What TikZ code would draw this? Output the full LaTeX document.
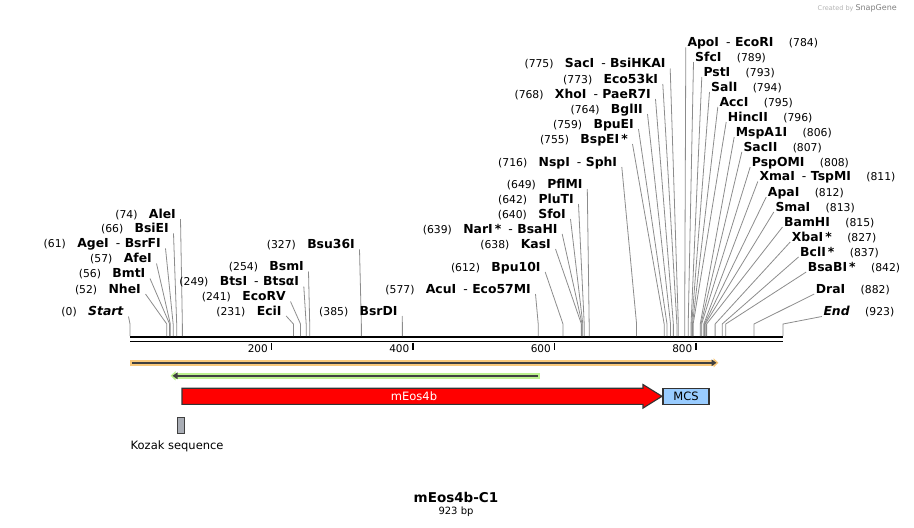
\documentclass[tikz,border=0pt]{standalone}
\usepackage{fontspec}
\setmainfont{DejaVu Sans}
\usetikzlibrary{positioning,arrows.meta}

\definecolor{leadgray}{HTML}{8C8C8C}
\definecolor{orangeband}{HTML}{F9C97B}
\definecolor{greenband}{HTML}{BDF28F}
\definecolor{mcsblue}{HTML}{99CCFF}
\definecolor{kozakgray}{HTML}{A9ADB5}

% separator between two enzymes that cut at the same site
\newcommand{\enzsep}{\hspace{7pt}\textmd{-}\hspace{4.5pt}}

% site labelled on the left: id, name, number, right end x, y, position in bp
\newcommand{\lsite}[6]{%
  \node[sitename, anchor=east] (#1) at (#4,#5) {#2};
  \node[sitenum, left=11pt of #1] (#1-n) {(#3)};
  \coordinate (#1-t) at ({bp(#6)},324);
  \coordinate (#1-b) at ({bp(#6)},336);
  \draw[leader] ([shift={(4.5,5)}]#1.east) -- (#1-t) -- (#1-b);
}
% site labelled on the right: id, name, number, left end x, y, position in bp
\newcommand{\rsite}[6]{%
  \node[sitename, anchor=west] (#1) at (#4,#5) {#2};
  \node[sitenum, right=15pt of #1] (#1-n) {(#3)};
  \coordinate (#1-t) at ({bp(#6)},324);
  \coordinate (#1-b) at ({bp(#6)},336);
  \draw[leader] ([shift={(-1.5,5)}]#1.west) -- (#1-t) -- (#1-b);
}

\begin{document}
\begin{tikzpicture}[
    x = 1pt, y = -1pt,
    declare function = {
        bp(\p) = 130+0.7075*\p;
    },
    sitename/.style = {inner sep=0pt, text height=8.8pt, text depth=0pt,
        font=\bfseries\fontsize{12.4}{14}\selectfont},
    sitenum/.style = {inner sep=0pt, text height=8.8pt, text depth=0pt,
        font=\fontsize{10.8}{12}\selectfont},
    leader/.style = {draw=leadgray, line width=0.8pt},
    ticknum/.style = {inner sep=0pt, font=\fontsize{10.5}{12}\selectfont},
    mcsbox/.style = {draw=black!80, fill=mcsblue, line width=1.1pt,
        minimum width=46pt, minimum height=16.5pt, inner sep=0pt,
        font=\fontsize{11.5}{13}\selectfont},
    ]

    \useasboundingbox (0,0) rectangle (914,528);

    % sequence line
    \coordinate (seqA) at ({bp(0)},337.2);
    \coordinate (seqB) at ({bp(923)},337.2);
    \coordinate (seqC) at ({bp(0)},341.5);
    \coordinate (seqD) at ({bp(923)},341.5);
    \draw[line width=2.5pt] (seqA) -- (seqB);
    \draw[line width=1.8pt] (seqC) -- (seqD);

    \foreach \t in {200,400,600,800} {
        \draw[line width=1.4pt] ({bp(\t)},342.5) -- ({bp(\t)},349.5);
        \node[ticknum, anchor=east] (tick\t) at ({bp(\t)-3.5},349) {\t};
    }

    % sites, left labels
    \lsite{start}{\textit{Start}}{0}{124}{311.5}{0}
    \lsite{nhe}{NheI}{52}{141}{289}{52}
    \lsite{bmt}{BmtI}{56}{145.5}{273.5}{56}
    \lsite{afe}{AfeI}{57}{152}{258.5}{57}
    \lsite{age}{AgeI\enzsep BsrFI}{61}{161}{243.3}{61}
    \lsite{bsie}{BsiEI}{66}{169}{228.3}{66}
    \lsite{ale}{AleI}{74}{176}{214}{74}
    \lsite{eci}{EciI}{231}{281.7}{311}{231}
    \lsite{ecorv}{EcoRV}{241}{286}{296.5}{241}
    \lsite{bts}{BtsI\enzsep BtsαI}{249}{299.3}{281.5}{249}
    \lsite{bsm}{BsmI}{254}{304}{266.5}{254}
    \lsite{bsu}{Bsu36I}{327}{355}{244.3}{327}
    \lsite{bsrd}{BsrDI}{385}{397.7}{311}{385}
    \lsite{acu}{AcuI\enzsep Eco57MI}{577}{531}{289}{577}
    \lsite{bpuX}{Bpu10I}{612}{540.7}{267}{612}
    \lsite{kas}{KasI}{638}{551}{244}{638}
    \lsite{nar}{NarI\,*\enzsep BsaHI}{639}{557.7}{229}{639}
    \lsite{sfo}{SfoI}{640}{566}{214}{640}
    \lsite{plu}{PluTI}{642}{574}{199}{642}
    \lsite{pfl}{PflMI}{649}{582.8}{184}{649}
    \lsite{nsp}{NspI\enzsep SphI}{716}{617.3}{162}{716}
    \lsite{bspe}{BspEI\,*}{755}{628}{139}{755}
    \lsite{bpue}{BpuEI}{759}{634}{124}{759}
    \lsite{bgl}{BglII}{764}{643}{109}{764}
    \lsite{xho}{XhoI\enzsep PaeR7I}{768}{651}{94}{768}
    \lsite{ecoF}{Eco53kI}{773}{658.3}{79}{773}
    \lsite{sac}{SacI\enzsep BsiHKAI}{775}{665.7}{63.5}{775}

    % sites, right labels
    \rsite{apo}{ApoI\enzsep EcoRI}{784}{687.3}{42.3}{784}
    \rsite{sfc}{SfcI}{789}{695}{57}{789}
    \rsite{pst}{PstI}{793}{703.3}{72}{793}
    \rsite{sal}{SalI}{794}{711}{87}{794}
    \rsite{acc}{AccI}{795}{719.3}{102}{795}
    \rsite{hinc}{HincII}{796}{727.7}{117}{796}
    \rsite{mspa}{MspA1I}{806}{735.7}{132}{806}
    \rsite{sacII}{SacII}{807}{743.3}{147}{807}
    \rsite{psp}{PspOMI}{808}{751.7}{162}{808}
    \rsite{xma}{XmaI\enzsep TspMI}{811}{759.3}{176.5}{811}
    \rsite{apa}{ApaI}{812}{767.7}{192}{812}
    \rsite{sma}{SmaI}{813}{775.3}{207}{813}
    \rsite{bam}{BamHI}{815}{784}{222}{815}
    \rsite{xba}{XbaI\,*}{827}{791.7}{237}{827}
    \rsite{bcl}{BclI\,*}{837}{800}{252}{837}
    \rsite{bsab}{BsaBI\,*}{842}{807.7}{267}{842}
    \rsite{dra}{DraI}{882}{815.7}{289}{882}
    \rsite{end}{\textit{End}}{923}{823.3}{311.5}{923}

    % features
    \coordinate (orfA) at (130,362.8);
    \coordinate (orfB) at (718.5,362.8);
    \coordinate (orfC) at (132,362.8);
    \coordinate (orfD) at (716.5,362.8);
    \draw[orangeband, line width=6pt, -{Triangle[length=5pt,width=9pt]}] (orfA) -- (orfB);
    \draw[black!75, line width=1.8pt, -{Triangle[length=5pt,width=6.5pt]}] (orfC) -- (orfD);

    \coordinate (revA) at (539.5,375.8);
    \coordinate (revB) at (170.5,375.8);
    \coordinate (revC) at (537.5,375.8);
    \coordinate (revD) at (172.5,375.8);
    \draw[greenband, line width=6pt, -{Triangle[length=5pt,width=9pt]}] (revA) -- (revB);
    \draw[black!75, line width=1.8pt, -{Triangle[length=5pt,width=6.5pt]}] (revC) -- (revD);

    \draw[fill=red, draw=black!80, line width=1.1pt]
        (182,388.2) -- (643,388.2) -- (643,384.5) -- (662,396.3)
        -- (643,408.1) -- (643,404.4) -- (182,404.4) -- cycle;
    \node[text=white, font=\fontsize{11.5}{13}\selectfont] (meos) at (414,396.3) {mEos4b};
    \node[mcsbox] (mcs) at (686,396.3) {MCS};

    \draw[fill=kozakgray, draw=black!75, line width=1pt] (177.5,417.5) rectangle (184.3,433.3);
    \node[anchor=west, inner sep=0pt, font=\fontsize{11.5}{13}\selectfont] (kozak) at (130.5,446) {Kozak sequence};

    % title
    \node[font=\bfseries\fontsize{13.5}{15}\selectfont] (title) at (456,497) {mEos4b-C1};
    \node[font=\fontsize{10}{12}\selectfont] (size) at (456,512) {923 bp};

    \node[anchor=east, inner sep=0pt, text=black!30, font=\fontsize{6.5}{8}\selectfont] (credit)
        at (897,8) {Created by \textcolor{black!50}{\fontsize{8}{9}\selectfont SnapGene}};

\end{tikzpicture}
\end{document}
